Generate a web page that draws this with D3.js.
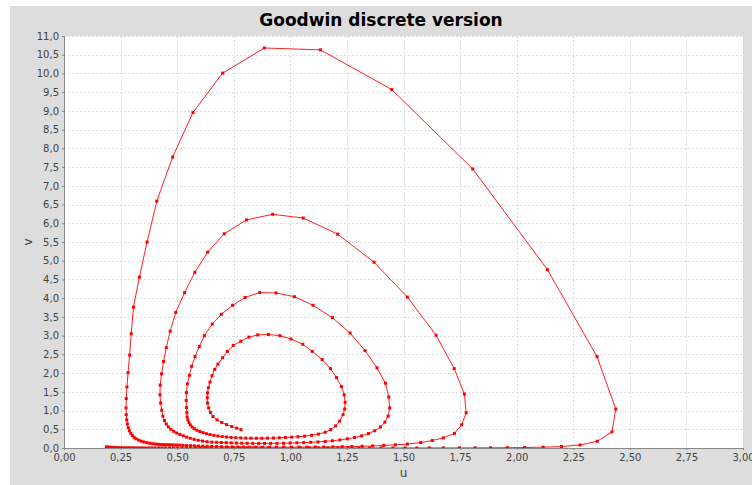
<!DOCTYPE html>
<html>
<head>
<meta charset="utf-8">
<script src="https://cdn.jsdelivr.net/npm/d3@7"></script>
<style>
  body { margin: 0; background: #ffffff; }
  svg { display: block; font-family: "DejaVu Sans", sans-serif; }
</style>
</head>
<body>
<div id="chart"></div>
<script>
// trajectory, [u, v], in drawing order (inner end outwards)
const innerTurn = [
  [0.782,0.49],[0.763,0.53],[0.741,0.575],[0.718,0.625],[0.697,0.68],[0.676,0.75],[0.658,0.84],[0.647,0.95],
  [0.639,1.07],[0.634,1.20],[0.633,1.34],[0.634,1.47],[0.638,1.61],[0.645,1.76],[0.654,1.93],[0.666,2.10],
  [0.680,2.24],[0.701,2.41],[0.722,2.58],[0.748,2.74],[0.781,2.85],[0.817,2.96],[0.856,3.02],[0.903,3.03],
  [0.954,3.00],[1.003,2.91],[1.055,2.77],[1.097,2.58],[1.141,2.36],[1.177,2.12],[1.204,1.88],[1.226,1.64],
  [1.238,1.42],[1.242,1.22],[1.240,1.04],[1.233,0.89],[1.218,0.72],[1.200,0.59],[1.178,0.49],[1.154,0.42],
  [1.124,0.37],[1.094,0.34],[1.063,0.315],[1.034,0.30],[1.006,0.29],[0.978,0.28],[0.951,0.272],[0.925,0.266],
  [0.899,0.262],[0.874,0.26],[0.850,0.26],[0.826,0.261],[0.803,0.264],[0.781,0.268],[0.759,0.274],[0.738,0.282],
  [0.718,0.292],[0.699,0.305],[0.680,0.32],[0.662,0.338],[0.645,0.358],[0.629,0.382],[0.614,0.41],[0.600,0.44],
  [0.587,0.475],[0.576,0.515],[0.566,0.56],[0.558,0.615],[0.552,0.68],[0.547,0.75],[0.544,0.83],[0.543,0.94]
];
const secondTurn = [
  [0.541,1.08],[0.540,1.27],[0.541,1.48],[0.545,1.71],[0.554,1.94],[0.564,2.18],[0.579,2.44],[0.598,2.71],
  [0.620,3.00],[0.655,3.31],[0.695,3.57],[0.745,3.81],[0.800,4.02],[0.865,4.15],[0.937,4.14],[1.018,4.04],
  [1.100,3.81],[1.186,3.48],[1.264,3.07],[1.330,2.60],[1.383,2.14],[1.420,1.73],[1.435,1.36],[1.439,1.07],
  [1.432,0.85],[1.418,0.69],[1.398,0.56],[1.373,0.46],[1.345,0.385],[1.315,0.325],[1.284,0.28],[1.252,0.245],
  [1.219,0.215],[1.186,0.192],[1.154,0.175],[1.122,0.162],[1.090,0.152],[1.059,0.144],[1.029,0.138],[0.999,0.132],
  [0.970,0.128],[0.941,0.125],[0.913,0.123],[0.886,0.122],[0.860,0.122],[0.834,0.123],[0.809,0.125],[0.785,0.128],
  [0.762,0.132],[0.739,0.137],[0.717,0.142],[0.695,0.148],[0.674,0.152],[0.653,0.157],[0.632,0.168],[0.612,0.185],
  [0.593,0.205],[0.575,0.23],[0.558,0.26],[0.542,0.29],[0.527,0.325],[0.512,0.36],[0.498,0.40],[0.485,0.445],
  [0.472,0.50],[0.461,0.565],[0.452,0.64],[0.444,0.73],[0.437,0.85]
];
const thirdTurn = [
  [0.432,1.01],[0.427,1.20],[0.424,1.42],[0.425,1.68],[0.431,1.98],[0.440,2.31],[0.452,2.68],[0.469,3.12],
  [0.494,3.62],[0.533,4.15],[0.578,4.69],[0.635,5.23],[0.708,5.72],[0.806,6.09],[0.922,6.24],[1.057,6.14],
  [1.209,5.71],[1.370,4.96],[1.517,4.03],[1.644,3.01],[1.724,2.12],[1.769,1.44],[1.777,0.94],[1.757,0.62],
  [1.725,0.39],[1.676,0.27],[1.627,0.20],[1.576,0.145],[1.517,0.105],[1.464,0.085],[1.413,0.068],[1.364,0.055],
  [1.317,0.046],[1.272,0.039],[1.229,0.034],[1.188,0.030],[1.148,0.027],[1.110,0.025],[1.073,0.024],[1.038,0.023],
  [1.004,0.022],[0.971,0.022],[0.939,0.022],[0.908,0.022],[0.878,0.023],[0.849,0.024],[0.821,0.025],[0.794,0.026],
  [0.768,0.028],[0.743,0.030],[0.719,0.032],[0.696,0.035],[0.674,0.038],[0.653,0.041],[0.633,0.044],[0.613,0.048],
  [0.594,0.052],[0.576,0.056],[0.559,0.061],[0.542,0.066],[0.526,0.071],[0.511,0.077],[0.497,0.080],[0.483,0.083],
  [0.470,0.086],[0.457,0.088],[0.444,0.088],[0.431,0.09],[0.418,0.097],[0.405,0.105],[0.392,0.115],[0.379,0.127],
  [0.366,0.142],[0.353,0.16],[0.341,0.183],[0.330,0.21],[0.319,0.245],[0.310,0.285],[0.302,0.335],[0.295,0.39],
  [0.289,0.46],[0.284,0.54],[0.280,0.64],[0.277,0.75],[0.275,0.89]
];
const outerTurn = [
  [0.274,1.07],[0.275,1.32],[0.278,1.63],[0.283,2.01],[0.290,2.48],[0.297,3.05],[0.307,3.76],[0.333,4.56],
  [0.367,5.50],[0.410,6.59],[0.480,7.77],[0.570,8.96],[0.701,10.01],[0.885,10.68],[1.133,10.63],[1.448,9.57],
  [1.806,7.45],[2.136,4.76],[2.355,2.44],[2.438,1.04],[2.421,0.43],[2.356,0.18],[2.280,0.08],[2.198,0.04],
  [2.117,0.022],[2.035,0.013],[1.959,0.008],[1.885,0.005],[1.816,0.004],[1.747,0.003],[1.676,0.002],[1.614,0.002],
  [1.559,0.002],[1.507,0.002]
];
const bottomTail = [
  [1.453,0.002],[1.401,0.002],[1.350,0.002],[1.302,0.002],[1.255,0.002],[1.210,0.002],[1.166,0.002],[1.124,0.002],
  [1.084,0.002],[1.045,0.002],[1.007,0.002],[0.971,0.002],[0.936,0.002],[0.902,0.002],[0.870,0.002],[0.838,0.002],
  [0.808,0.002],[0.779,0.002],[0.751,0.002],[0.724,0.002],[0.698,0.002],[0.673,0.002],[0.649,0.002],[0.625,0.002],
  [0.603,0.002],[0.581,0.002],[0.560,0.002],[0.540,0.002],[0.521,0.002],[0.502,0.002],[0.484,0.002],[0.466,0.002],
  [0.449,0.002],[0.433,0.002],[0.418,0.002],[0.402,0.002],[0.388,0.002],[0.374,0.002],[0.360,0.002],[0.347,0.002],
  [0.335,0.002],[0.323,0.002],[0.311,0.003],[0.300,0.003],[0.289,0.003],[0.279,0.004],[0.269,0.004],[0.259,0.005],
  [0.250,0.006],[0.241,0.007],[0.232,0.009],[0.224,0.011],[0.216,0.014],[0.208,0.017],[0.200,0.021],[0.193,0.025],
  [0.187,0.03]
];

const xTicks = [0, 0.25, 0.5, 0.75, 1, 1.25, 1.5, 1.75, 2, 2.25, 2.5, 2.75, 3];
const yTicks = [0, 0.5, 1, 1.5, 2, 2.5, 3, 3.5, 4, 4.5, 5, 5.5, 6, 6.5, 7, 7.5, 8, 8.5, 9, 9.5, 10, 10.5, 11];

const points = innerTurn.concat(secondTurn, thirdTurn, outerTurn, bottomTail);

const width = 752, height = 485;
const margin = { top: 36, right: 9, bottom: 37, left: 64 };
const plotW = width - margin.left - margin.right;
const plotH = height - margin.top - margin.bottom;

let svg = d3.select('#chart')
  .append('svg')
  .attr('width', width)
  .attr('height', height);

// chart panel
svg.append('rect')
  .attr('x', 10).attr('y', 6)
  .attr('width', width - 10).attr('height', height - 6)
  .attr('fill', '#dddddd');

svg.append('text')
  .attr('x', 381).attr('y', 26)
  .attr('text-anchor', 'middle')
  .style('font-size', '17px')
  .style('font-weight', 'bold')
  .attr('fill', '#000')
  .text('Goodwin discrete version');

let g = svg.append('g')
  .attr('transform', `translate(${margin.left}, ${margin.top})`);

let x = d3.scaleLinear().domain([0, 3]).range([0, plotW]);
let y = d3.scaleLinear().domain([0, 11]).range([plotH, 0]);

g.append('rect')
  .attr('width', plotW).attr('height', plotH)
  .attr('fill', '#ffffff');

// grid
g.append('g').selectAll('line').data(xTicks.slice(1)).enter()
  .append('line')
  .attr('x1', d => Math.round(x(d)) + 0.5).attr('x2', d => Math.round(x(d)) + 0.5)
  .attr('y1', 0).attr('y2', plotH)
  .attr('stroke', '#cfcfcf').attr('stroke-width', 0.7).attr('stroke-dasharray', '2,2');

g.append('g').selectAll('line').data(yTicks.slice(1)).enter()
  .append('line')
  .attr('y1', d => Math.round(y(d)) + 0.5).attr('y2', d => Math.round(y(d)) + 0.5)
  .attr('x1', 0).attr('x2', plotW)
  .attr('stroke', '#cfcfcf').attr('stroke-width', 0.7).attr('stroke-dasharray', '2,2');

// axes
let xAxis = g.append('g')
  .attr('transform', `translate(0, ${plotH})`)
  .call(d3.axisBottom(x).tickValues(xTicks).tickSize(2).tickPadding(4)
    .tickFormat(d => d.toFixed(2).replace('.', ',')));

let yAxis = g.append('g')
  .call(d3.axisLeft(y).tickValues(yTicks).tickSize(2).tickPadding(3)
    .tickFormat(d => d.toFixed(1).replace('.', ',')));

[xAxis, yAxis].forEach(a => {
  a.selectAll('path, line').attr('stroke', '#888888');
  a.selectAll('text').style('font-size', '10px').attr('fill', '#444444')
    .style('font-family', '"DejaVu Sans", sans-serif');
});

// series, clipped to the plot
g.append('clipPath').attr('id', 'plotClip')
  .append('rect').attr('width', plotW).attr('height', plotH);

let series = g.append('g').attr('clip-path', 'url(#plotClip)');

let line = d3.line()
  .x(d => x(d[0]))
  .y(d => y(d[1]));

series.append('path')
  .datum(points)
  .attr('d', line)
  .attr('fill', 'none')
  .attr('stroke', '#ff2020')
  .attr('stroke-width', 1);

series.selectAll('rect.marker').data(points).enter()
  .append('rect')
  .attr('class', 'marker')
  .attr('x', d => x(d[0]) - 1.5)
  .attr('y', d => y(d[1]) - 1.5)
  .attr('width', 3)
  .attr('height', 3)
  .attr('fill', '#ff0000');

// axis labels
svg.append('text')
  .attr('x', margin.left + plotW / 2).attr('y', 477)
  .attr('text-anchor', 'middle')
  .style('font-size', '12px')
  .attr('fill', '#444444')
  .text('u');

svg.append('text')
  .attr('transform', `translate(32, ${margin.top + plotH / 2}) rotate(-90)`)
  .attr('text-anchor', 'middle')
  .style('font-size', '12px')
  .attr('fill', '#444444')
  .text('v');
</script>
</body>
</html>
